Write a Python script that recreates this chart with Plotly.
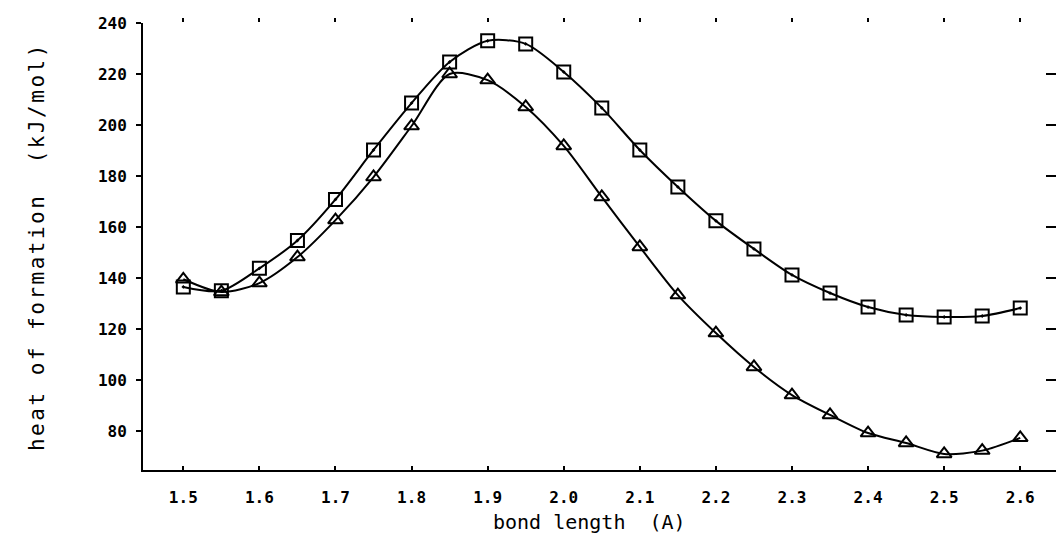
import plotly.graph_objects as go

bond_length = [1.5, 1.55, 1.6, 1.65, 1.7, 1.75, 1.8, 1.85, 1.9, 1.95, 2.0, 2.05,
               2.1, 2.15, 2.2, 2.25, 2.3, 2.35, 2.4, 2.45, 2.5, 2.55, 2.6]
squares = [136.5, 135.0, 143.8, 154.7, 170.8, 190.2, 208.6, 224.7, 233.0, 231.8,
           220.8, 206.7, 190.2, 175.7, 162.4, 151.4, 141.2, 134.1, 128.6, 125.5,
           124.7, 125.1, 128.2]
triangles = [139.5, 134.5, 138.0, 148.2, 162.7, 179.6, 199.6, 220.0, 217.6, 207.1,
             191.8, 171.8, 152.2, 133.3, 118.4, 105.1, 94.1, 86.3, 79.2, 75.3,
             71.0, 72.3, 77.3]
x_ticks = [1.5, 1.6, 1.7, 1.8, 1.9, 2.0, 2.1, 2.2, 2.3, 2.4, 2.5, 2.6]
x_tick_text = ["1.5", "1.6", "1.7", "1.8", "1.9", "2.0", "2.1", "2.2", "2.3", "2.4", "2.5", "2.6"]
y_ticks = [80, 100, 120, 140, 160, 180, 200, 220, 240]

X_RANGE = [1.447, 2.647]
Y_RANGE = [64.7, 240]
TICK_FONT = dict(family="DejaVu Sans Mono", size=16, color="black", weight="bold")

fig = go.Figure()
fig.add_trace(go.Scatter(
    x=bond_length, y=squares, mode="lines+markers",
    line=dict(color="black", width=2, shape="spline", smoothing=0.8),
    marker=dict(symbol="square-open-dot", size=13, color="black", line=dict(width=2, color="black")),
    showlegend=False))
fig.add_trace(go.Scatter(
    x=bond_length, y=triangles, mode="lines+markers",
    line=dict(color="black", width=2, shape="spline", smoothing=0.8),
    marker=dict(symbol="triangle-up-open", size=13, color="black", line=dict(width=2, color="black")),
    showlegend=False))

# invisible trace to activate the mirrored tick-only axes
fig.add_trace(go.Scatter(x=[bond_length[0]], y=[squares[0]], xaxis="x2", yaxis="y2",
                         mode="markers", marker=dict(opacity=0), showlegend=False, hoverinfo="skip"))

fig.update_layout(
    width=1056, height=535,
    margin=dict(l=143, r=0, t=23, b=65),
    paper_bgcolor="white", plot_bgcolor="white",
    xaxis=dict(range=X_RANGE, tickvals=x_ticks, ticktext=x_tick_text,
               showgrid=False, zeroline=False, showline=True, linecolor="black", linewidth=2,
               ticks="inside", ticklen=4, tickwidth=2, tickcolor="black",
               tickfont=TICK_FONT, ticklabelstandoff=12),
    yaxis=dict(range=Y_RANGE, tickvals=y_ticks,
               showgrid=False, zeroline=False, showline=True, linecolor="black", linewidth=2,
               ticks="outside", ticklen=5, tickwidth=2, tickcolor="black",
               tickfont=TICK_FONT, ticklabelstandoff=6),
    xaxis2=dict(range=X_RANGE, tickvals=x_ticks, overlaying="x", side="top",
                showgrid=False, zeroline=False, showline=False, showticklabels=False,
                ticks="outside", ticklen=4, tickwidth=2, tickcolor="black"),
    yaxis2=dict(range=Y_RANGE, tickvals=y_ticks, overlaying="y", side="right",
                showgrid=False, zeroline=False, showline=False, showticklabels=False,
                ticks="inside", ticklen=10, tickwidth=2, tickcolor="black"),
    annotations=[
        dict(text="bond length  (A)", xref="paper", yref="paper", x=0.4885, y=-0.116,
             xanchor="center", yanchor="middle", showarrow=False,
             font=dict(family="DejaVu Sans Mono", size=20, color="black")),
        dict(text='<span style="letter-spacing:2.5px">heat of formation  (kJ/mol)</span>',
             xref="paper", yref="paper", x=-0.116, y=0.499, textangle=-90,
             xanchor="center", yanchor="middle", showarrow=False,
             font=dict(family="DejaVu Sans Mono", size=21, color="black")),
    ],
)

fig.write_html("out.html")
